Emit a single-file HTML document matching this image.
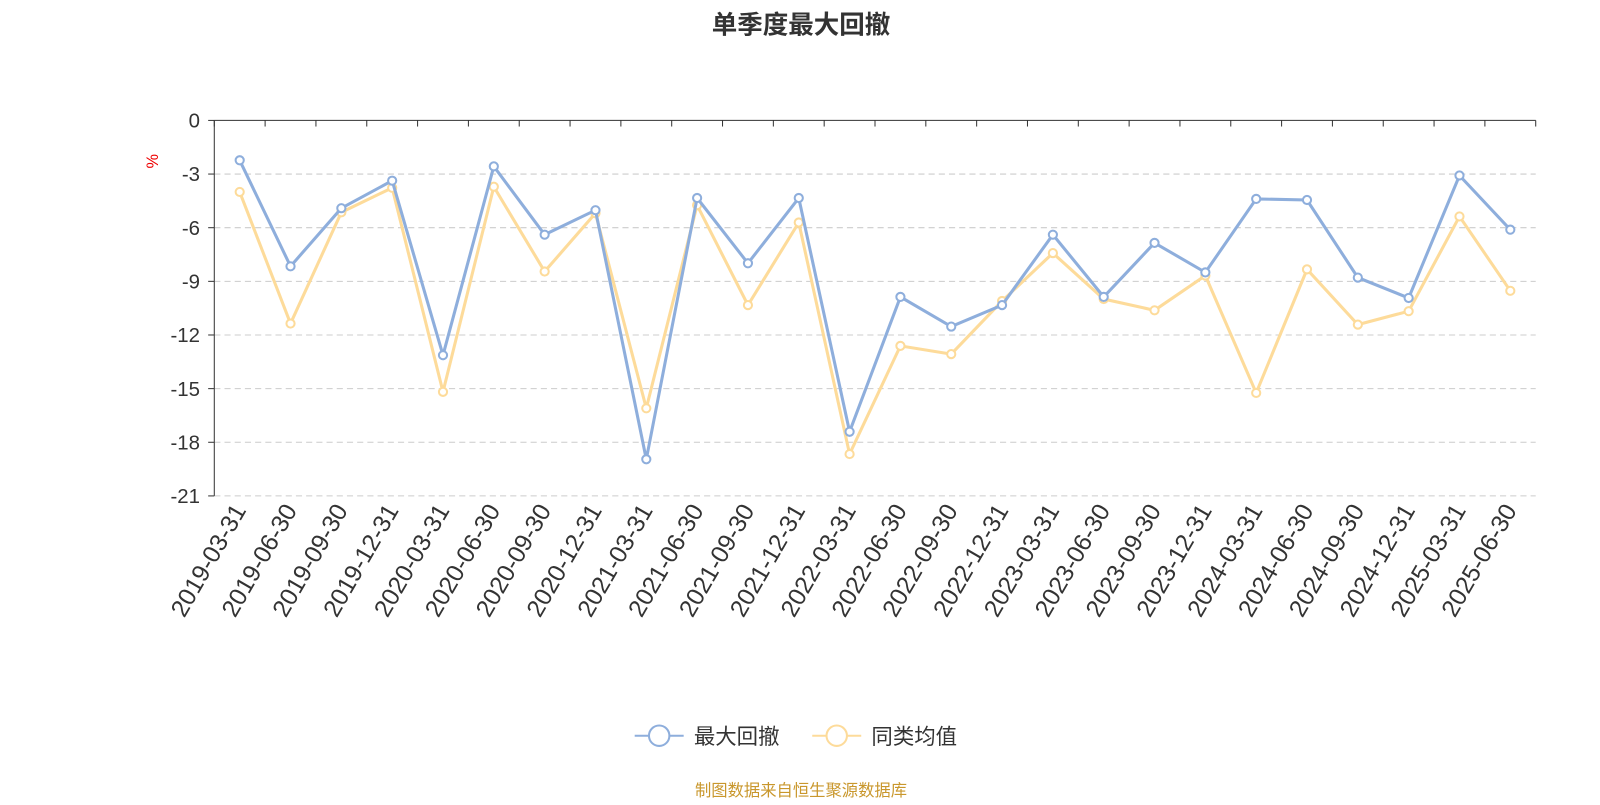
<!DOCTYPE html>
<html><head><meta charset="utf-8"><style>
body{margin:0;background:#fff;width:1600px;height:800px;overflow:hidden;font-family:"Liberation Sans","Noto Sans CJK SC",sans-serif;}
</style></head><body>
<svg id="c" width="1600" height="800" viewBox="0 0 1568 784" xmlns="http://www.w3.org/2000/svg">
<text x="785" y="33" text-anchor="middle" font-size="25" font-weight="bold" fill="#333" font-family="Liberation Sans,Noto Sans CJK SC,sans-serif">单季度最大回撤</text>
<text transform="translate(155,158) rotate(-90)" text-anchor="middle" font-size="16" fill="#e00">%</text>
<g id="grid"></g><g id="axes"></g><g id="series"></g>
<g>
<g>
<line x1="622" y1="721" x2="670" y2="721" stroke="#8eaedc" stroke-width="2"/><circle cx="646" cy="721" r="10" fill="#fff" stroke="#8eaedc" stroke-width="2"/>
<text x="680" y="729" font-size="21" fill="#333" font-family="Liberation Sans,Noto Sans CJK SC,sans-serif">最大回撤</text></g>
<g>
<line x1="796" y1="721" x2="844" y2="721" stroke="#fddb9a" stroke-width="2"/><circle cx="820" cy="721" r="10" fill="#fff" stroke="#fddb9a" stroke-width="2"/>
<text x="854" y="729" font-size="21" fill="#333" font-family="Liberation Sans,Noto Sans CJK SC,sans-serif">同类均值</text></g>
</g>
<text x="785" y="780" text-anchor="middle" font-size="16" fill="#c9972c" font-family="Liberation Sans,Noto Sans CJK SC,sans-serif">制图数据来自恒生聚源数据库</text>
</svg>
<script>
const categories=["2019-03-31","2019-06-30","2019-09-30","2019-12-31","2020-03-31","2020-06-30","2020-09-30","2020-12-31","2021-03-31","2021-06-30","2021-09-30","2021-12-31","2022-03-31","2022-06-30","2022-09-30","2022-12-31","2023-03-31","2023-06-30","2023-09-30","2023-12-31","2024-03-31","2024-06-30","2024-09-30","2024-12-31","2025-03-31","2025-06-30"];
const maxDrawdown=[-2.23,-8.16,-4.91,-3.37,-13.13,-2.57,-6.39,-5.02,-18.95,-4.34,-7.99,-4.34,-17.41,-9.87,-11.53,-10.33,-6.39,-9.87,-6.85,-8.5,-4.39,-4.45,-8.79,-9.93,-3.08,-6.11];
const peerAverage=[-4.0,-11.36,-5.14,-3.77,-15.18,-3.71,-8.45,-5.19,-16.1,-4.74,-10.33,-5.71,-18.66,-12.61,-13.07,-10.1,-7.42,-9.99,-10.62,-8.68,-15.24,-8.33,-11.42,-10.67,-5.37,-9.53];
const yTicks=[0,-3,-6,-9,-12,-15,-18,-21];
const X0=210,X1=1505,Y0=118,Y1=486,NS="http://www.w3.org/2000/svg";
const bw=(X1-X0)/categories.length;
const xs=i=>X0+bw*(i+0.5);
const ys=v=>Y0+(0-v)/21*(Y1-Y0);
function mk(t,a,p){const e=document.createElementNS(NS,t);for(const k in a)e.setAttribute(k,a[k]);p.appendChild(e);return e;}
const grid=document.getElementById('grid'),axes=document.getElementById('axes'),ser=document.getElementById('series');
yTicks.forEach(t=>{const y=ys(t);
 if(t!==0){const g=mk('line',{x1:X0,x2:X1,y1:y,y2:y,stroke:'#ccc','stroke-dasharray':'6,4'},grid);
 
 }
 mk('line',{x1:X0-6,x2:X0,y1:y,y2:y,stroke:'#333'},axes);
 const l=mk('text',{x:X0-14,y:y+7,'text-anchor':'end','font-size':20,fill:'#333'},axes);l.textContent=t;
 
 
});
mk('line',{x1:X0,x2:X0,y1:Y0,y2:Y1,stroke:'#333'},axes);
mk('line',{x1:X0,x2:X1,y1:Y0,y2:Y0,stroke:'#333'},axes);
for(let i=0;i<=categories.length;i++){const x=X0+bw*i;mk('line',{x1:x,x2:x,y1:Y0,y2:Y0+6,stroke:'#333'},axes);}
categories.forEach((c,i)=>{const x=xs(i)+7,y=Y1+14;
 const t=mk('text',{x:x,y:y,'text-anchor':'end','font-size':24,fill:'#333',transform:`rotate(-60 ${x} ${y})`},axes);t.textContent=c;
 
 
});
function draw(data,color,name){
 const p=mk('polyline',{points:data.map((v,i)=>xs(i)+','+ys(v)).join(' '),fill:'none',stroke:color,'stroke-width':3},ser);
 
 
 data.forEach((v,i)=>{const c=mk('circle',{cx:xs(i),cy:ys(v),r:4,fill:'#fff',stroke:color,'stroke-width':2},ser);
 
 });
}
draw(peerAverage,'#fddb9a','peer-average');
draw(maxDrawdown,'#8eaedc','max-drawdown');
</script>
</body></html>
